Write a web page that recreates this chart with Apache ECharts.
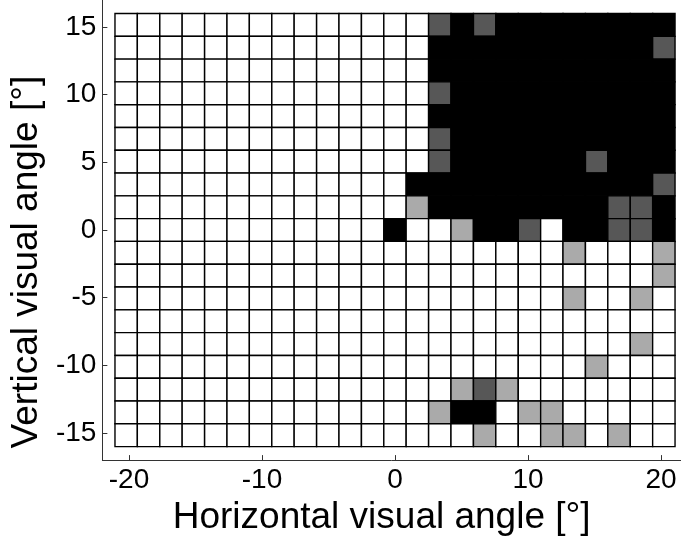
<!DOCTYPE html>
<html>
<head>
<meta charset="utf-8">
<script src="https://cdn.jsdelivr.net/npm/echarts@6/dist/echarts.min.js"></script>
<style>
  html, body { margin: 0; padding: 0; background: #fff; }
  #chart { width: 681px; height: 541px; }
</style>
</head>
<body>
<div id="chart"></div>
<script>
// Horizontal cell centres (degrees), left to right
const xCenters = [-20.21, -18.53, -16.84, -15.16, -13.47, -11.79, -10.11, -8.42, -6.74, -5.05, -3.37, -1.68,
  0, 1.68, 3.37, 5.05, 6.74, 8.42, 10.11, 11.79, 13.47, 15.16, 16.84, 18.53, 20.21];
// Vertical cell centres (degrees), top to bottom
const yCenters = [15.16, 13.47, 11.79, 10.11, 8.42, 6.74, 5.05, 3.37, 1.68, 0,
  -1.68, -3.37, -5.05, -6.74, -8.42, -10.11, -11.79, -13.47, -15.16];
// Response level per cell (0 none, 1 weak, 2 medium, 3 strong); one row per yCenter
const levels = [
  [0,0,0,0,0,0,0,0,0,0,0,0,0,0,2,3,2,3,3,3,3,3,3,3,3],
  [0,0,0,0,0,0,0,0,0,0,0,0,0,0,3,3,3,3,3,3,3,3,3,3,2],
  [0,0,0,0,0,0,0,0,0,0,0,0,0,0,3,3,3,3,3,3,3,3,3,3,3],
  [0,0,0,0,0,0,0,0,0,0,0,0,0,0,2,3,3,3,3,3,3,3,3,3,3],
  [0,0,0,0,0,0,0,0,0,0,0,0,0,0,3,3,3,3,3,3,3,3,3,3,3],
  [0,0,0,0,0,0,0,0,0,0,0,0,0,0,2,3,3,3,3,3,3,3,3,3,3],
  [0,0,0,0,0,0,0,0,0,0,0,0,0,0,2,3,3,3,3,3,3,2,3,3,3],
  [0,0,0,0,0,0,0,0,0,0,0,0,0,3,3,3,3,3,3,3,3,3,3,3,2],
  [0,0,0,0,0,0,0,0,0,0,0,0,0,1,3,3,3,3,3,3,3,3,2,2,3],
  [0,0,0,0,0,0,0,0,0,0,0,0,3,0,0,1,3,3,2,0,3,3,2,2,3],
  [0,0,0,0,0,0,0,0,0,0,0,0,0,0,0,0,0,0,0,0,1,0,0,0,1],
  [0,0,0,0,0,0,0,0,0,0,0,0,0,0,0,0,0,0,0,0,0,0,0,0,1],
  [0,0,0,0,0,0,0,0,0,0,0,0,0,0,0,0,0,0,0,0,1,0,0,1,0],
  [0,0,0,0,0,0,0,0,0,0,0,0,0,0,0,0,0,0,0,0,0,0,0,0,0],
  [0,0,0,0,0,0,0,0,0,0,0,0,0,0,0,0,0,0,0,0,0,0,0,1,0],
  [0,0,0,0,0,0,0,0,0,0,0,0,0,0,0,0,0,0,0,0,0,1,0,0,0],
  [0,0,0,0,0,0,0,0,0,0,0,0,0,0,0,1,2,1,0,0,0,0,0,0,0],
  [0,0,0,0,0,0,0,0,0,0,0,0,0,0,1,3,3,0,1,1,0,0,0,0,0],
  [0,0,0,0,0,0,0,0,0,0,0,0,0,0,0,0,1,0,0,1,1,0,1,0,0]
];
const xTicks = [-20, -10, 0, 10, 20];
const yTicks = [-15, -10, -5, 0, 5, 10, 15];

const cellSize = 1.684;
const palette = ['#ffffff', '#aaaaaa', '#575757', '#000000'];
const fontFamily = '"Liberation Sans", Arial, Helvetica, sans-serif';

const cells = [];
levels.forEach((row, r) => {
  row.forEach((lv, c) => cells.push([xCenters[c], yCenters[r], lv]));
});

const chart = echarts.init(document.getElementById('chart'), null, { renderer: 'canvas' });
chart.setOption({
  animation: false,
  backgroundColor: '#ffffff',
  grid: { left: 101.7, right: 0, top: -1, bottom: 79.3, containLabel: false },
  xAxis: {
    type: 'value', min: -22, max: 21.5,
    name: 'Horizontal visual angle [°]', nameLocation: 'middle', nameGap: 33,
    // right padding nudges the title a little to the left
    nameTextStyle: { fontSize: 37, color: '#000', fontFamily, padding: [0, 20, 0, 0] },
    axisLine: { show: true, onZero: false, lineStyle: { color: '#333', width: 1 } },
    axisTick: { show: true, inside: true, length: 5, customValues: xTicks, lineStyle: { color: '#333' } },
    axisLabel: { customValues: xTicks, fontSize: 28, color: '#000', fontFamily, margin: 6 },
    splitLine: { show: false }
  },
  yAxis: {
    type: 'value', min: -17, max: 17,
    name: 'Vertical visual angle [°]', nameLocation: 'middle', nameGap: 45,
    // right padding nudges the rotated title down along the axis
    nameTextStyle: { fontSize: 37, color: '#000', fontFamily, padding: [0, 64, 0, 0] },
    axisLine: { show: true, onZero: false, lineStyle: { color: '#333', width: 1 } },
    axisTick: { show: true, inside: true, length: 5, customValues: yTicks, lineStyle: { color: '#333' } },
    axisLabel: { customValues: yTicks, fontSize: 28, color: '#000', fontFamily, margin: 6 },
    splitLine: { show: false }
  },
  series: [{
    type: 'custom',
    data: cells,
    clip: false,
    renderItem(params, api) {
      const x = api.value(0), y = api.value(1), lv = api.value(2);
      const h = cellSize / 2;
      const p0 = api.coord([x - h, y + h]);
      const p1 = api.coord([x + h, y - h]);
      return {
        type: 'rect',
        shape: { x: p0[0], y: p0[1], width: p1[0] - p0[0], height: p1[1] - p0[1] },
        style: { fill: palette[lv], stroke: '#000', lineWidth: 1.4 }
      };
    }
  }]
});
</script>
</body>
</html>
